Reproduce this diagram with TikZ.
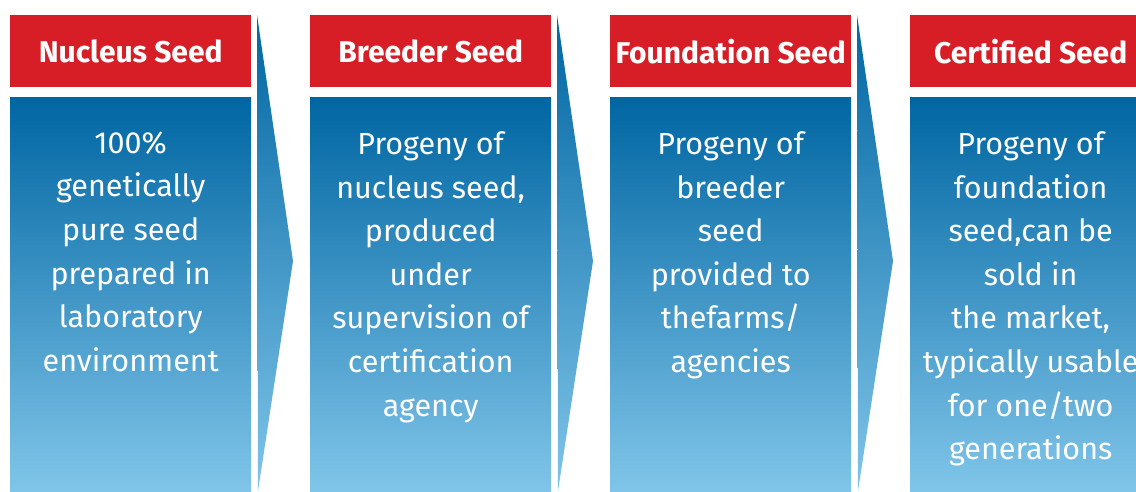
\documentclass[tikz,border=0pt]{standalone}
\usepackage{fontspec}
\setmainfont{Fira Sans}
\usetikzlibrary{positioning}

\definecolor{seedred}{RGB}{215,30,38}
\definecolor{seedtop}{RGB}{0,102,162}
\definecolor{seedmid}{RGB}{38,138,194}
\definecolor{seedbot}{RGB}{128,197,233}

\begin{document}
\begin{tikzpicture}[x=1pt,y=1pt,
    header/.style={fill=seedred, text=white, minimum width=241pt, minimum height=72pt,
        inner sep=0pt, font=\fontsize{30}{32}\selectfont\bfseries},
    seedbox/.style={top color=seedtop, middle color=seedmid, bottom color=seedbot,
        minimum width=241pt, minimum height=394pt, inner sep=0pt},
    seedtext/.style={text=white, align=center, inner sep=0pt, anchor=north,
        font=\fontsize{30.5}{43.6}\selectfont},
    chevron/.style={top color=seedtop, middle color=seedmid, bottom color=seedbot}]
    \useasboundingbox (0,0) rectangle (1136,491);

    % headers
    \node[header, anchor=north west] (h1) at (10,476) {Nucleus Seed};
    \node[header, anchor=north west] (h2) at (310,476) {Breeder Seed};
    \node[header, anchor=north west] (h3) at (610,476) {Foundation Seed};
    \node[header, anchor=north west] (h4) at (910,476) {Certified Seed};

    % blue boxes
    \node[seedbox, below=10pt of h1] (b1) {};
    \node[seedbox, below=10pt of h2] (b2) {};
    \node[seedbox, below=10pt of h3] (b3) {};
    \node[seedbox, below=10pt of h4] (b4) {};

    % texts
    \node[seedtext] (t1) at ([yshift=-34pt]b1.north) {100\%\\genetically\\pure seed\\prepared in\\laboratory\\environment};
    \node[seedtext] (t2) at ([yshift=-34pt]b2.north) {Progeny of\\nucleus seed,\\produced\\under\\supervision of\\certification\\agency};
    \node[seedtext] (t3) at ([yshift=-34pt]b3.north) {Progeny of\\breeder\\seed\\provided to\\thefarms/\\agencies};
    \node[seedtext] (t4) at ([yshift=-34pt]b4.north) {Progeny of\\foundation\\seed,can be\\sold in\\the market,\\typically usable\\for one/two\\generations};

    % arrows between columns
    \shade[chevron] (257,476) -- (293,230) -- (258,0) -- cycle;
    \shade[chevron] (557,476) -- (593,230) -- (558,0) -- cycle;
    \shade[chevron] (857,476) -- (893,230) -- (858,0) -- cycle;
\end{tikzpicture}
\end{document}
